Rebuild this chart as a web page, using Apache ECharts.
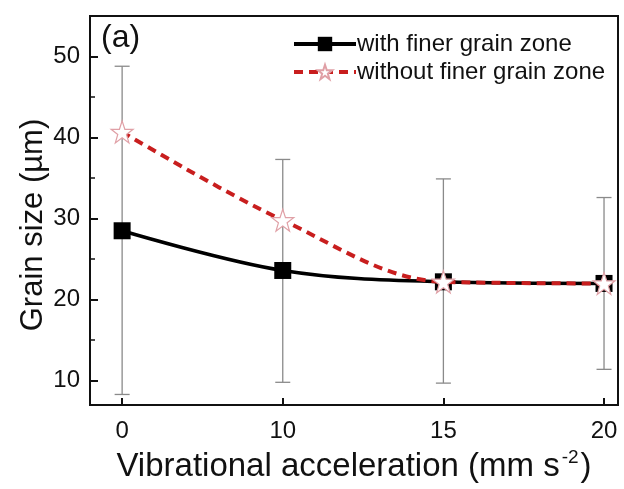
<!DOCTYPE html>
<html>
<head>
<meta charset="utf-8">
<script src="https://cdn.jsdelivr.net/npm/echarts@6/dist/echarts.min.js"></script>
<style>html,body{margin:0;padding:0;background:#fff}#c{width:624px;height:489px}</style>
</head>
<body>
<div id="c"></div>
<script>
const categories = ["0", "10", "15", "20"];
const withFiner = [28.5, 23.6, 22.2, 22.0];
const withoutFiner = [40.7, 29.8, 22.2, 22.0];
const errHigh = [48.8, 37.3, 34.9, 32.6];
const errLow = [8.3, 9.8, 9.7, 11.4];
const yMajorTicks = [10, 20, 30, 40, 50];
const yMinorTicks = [15, 25, 35, 45];

const idx = categories.map((_, i) => i);
const FONT = 'Liberation Sans, Arial, sans-serif';
const chart = echarts.init(document.getElementById('c'), null, {renderer: 'canvas'});

const errData = idx.map(i => [i, errLow[i], errHigh[i]]);
const STAR = 'path://M50,2 L61.8,36.2 L97.6,36.2 L68.8,57.4 L79.4,91.6 L50,70.6 L20.6,91.6 L31.2,57.4 L2.4,36.2 L38.2,36.2 Z';

const option = {
  animation: false,
  backgroundColor: '#fff',
  grid: {left: 90, right: 6, top: 16, bottom: 84, outerBoundsMode: 'none', containLabel: false, show: true, borderColor: '#111', borderWidth: 2, backgroundColor: 'transparent'},
  xAxis: {
    type: 'value', min: -0.2, max: 3.087,
    axisLine: {show: true, onZero: false, lineStyle: {color: '#111', width: 2}},
    axisTick: {show: true, inside: true, length: 7, lineStyle: {color: '#111', width: 2}, customValues: idx},
    axisLabel: {show: true, customValues: idx, formatter: v => categories[Math.round(v)], fontSize: 24, color: '#111', fontFamily: FONT, margin: 14},
    splitLine: {show: false},
    name: '{a|Vibrational acceleration (mm s}{s|-2}{a|)}',
    nameLocation: 'middle', nameGap: 38,
    nameTextStyle: {rich: {
      a: {fontSize: 33, color: '#111', fontFamily: FONT, verticalAlign: 'bottom', lineHeight: 36},
      s: {fontSize: 19, color: '#111', fontFamily: FONT, verticalAlign: 'top', lineHeight: 36, padding: [0, 2, 20, 2]}
    }}
  },
  yAxis: [{
    type: 'value', min: 7, max: 55,
    axisLine: {show: true, onZero: false, lineStyle: {color: '#111', width: 2}},
    axisTick: {show: true, inside: true, length: 8, lineStyle: {color: '#111', width: 2}, customValues: yMajorTicks},
    axisLabel: {show: true, customValues: yMajorTicks, fontSize: 24, color: '#111', fontFamily: FONT, margin: 10},
    splitLine: {show: false}
  }, {
    type: 'value', min: 7, max: 55, position: 'left',
    axisLine: {show: false, onZero: false},
    axisTick: {show: true, inside: true, length: 5, lineStyle: {color: '#111', width: 1.5}, customValues: yMinorTicks},
    axisLabel: {show: false},
    splitLine: {show: false}
  }],
  legend: {
    orient: 'vertical', left: 287, top: 27, itemGap: 4,
    itemWidth: 62, itemHeight: 18,
    textStyle: {fontSize: 24, color: '#111', fontFamily: FONT, padding: [0, 0, 0, -4]},
    data: [
      {name: 'with finer grain zone', lineStyle: {width: 4, color: '#000'}},
      {name: 'without finer grain zone', lineStyle: {width: 4, color: '#c81e1e', type: [9, 6]}}
    ]
  },
  graphic: [{
    type: 'text', left: 101, top: 22,
    style: {text: '(a)', fontSize: 32, fill: '#111', fontFamily: FONT}
  }, {
    type: 'text', x: 33, y: 225, rotation: Math.PI / 2,
    style: {text: 'Grain size (µm)', fontSize: 31, fill: '#111', fontFamily: FONT, align: 'center', verticalAlign: 'middle'}
  }],
  series: [{
    type: 'custom', name: 'err', z: 1, silent: true,
    data: errData,
    renderItem: function (params, api) {
      const x = api.value(0);
      const lo = api.coord([x, api.value(1)]);
      const hi = api.coord([x, api.value(2)]);
      const w = 7.5;
      const st = {stroke: '#8a8a8a', lineWidth: 1.3};
      return {type: 'group', children: [
        {type: 'line', shape: {x1: lo[0], y1: lo[1], x2: hi[0], y2: hi[1]}, style: st},
        {type: 'line', shape: {x1: lo[0] - w, y1: lo[1], x2: lo[0] + w, y2: lo[1]}, style: st},
        {type: 'line', shape: {x1: hi[0] - w, y1: hi[1], x2: hi[0] + w, y2: hi[1]}, style: st}
      ]};
    }
  }, {
    type: 'line', name: 'with finer grain zone', z: 3,
    data: idx.map(i => [i, withFiner[i]]),
    smooth: 0.35,
    symbol: 'rect', symbolSize: 17,
    itemStyle: {color: '#000'},
    lineStyle: {color: '#000', width: 3.5}
  }, {
    type: 'line', name: 'without finer grain zone', z: 4,
    data: idx.map(i => [i, withoutFiner[i]]),
    smooth: 0.35,
    symbol: STAR,
    symbolSize: 22, showAllSymbol: true,
    itemStyle: {color: '#fff', borderColor: '#e0a0a6', borderWidth: 1.2},
    lineStyle: {color: '#c81e1e', width: 4, type: [9, 6]}
  }]
};
chart.setOption(option);
</script>
</body>
</html>
